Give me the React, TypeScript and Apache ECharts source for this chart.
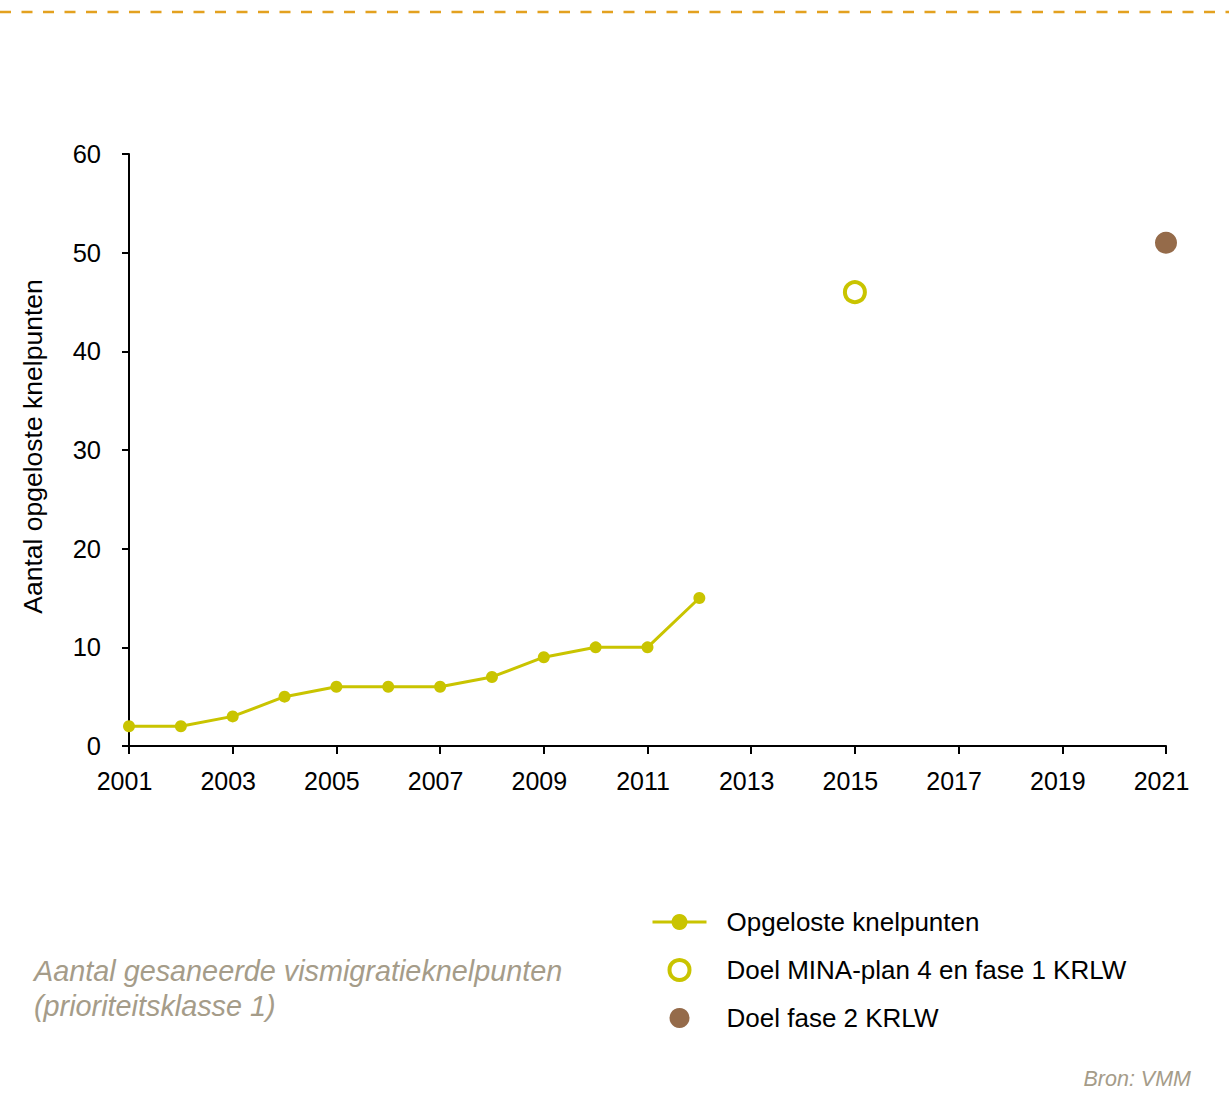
import React, { useEffect, useRef } from "react";
import * as echarts from "echarts";

const BASE_YEAR = 2001;
const years = [2001, 2002, 2003, 2004, 2005, 2006, 2007, 2008, 2009, 2010, 2011, 2012];
const solved = [2, 2, 3, 5, 6, 6, 6, 7, 9, 10, 10, 15];
const goal1Year = [2015];
const goal1Value = [46];
const goal2Year = [2021];
const goal2Value = [51];
const seriesNames = [
  "Opgeloste knelpunten",
  "Doel MINA-plan 4 en fase 1 KRLW",
  "Doel fase 2 KRLW",
];
const yAxisName = "Aantal opgeloste knelpunten";
const captionLines = ["Aantal gesaneerde vismigratieknelpunten", "(prioriteitsklasse 1)"];
const sourceText = "Bron: VMM";

const FONT = "'Liberation Sans', Arial, Helvetica, sans-serif";
const LIME = "#c9c400";
const BROWN = "#956b4a";
const GREY = "#a59c89";

export default function App() {
  const ref = useRef<HTMLDivElement>(null);
  useEffect(() => {
    if (!ref.current) return;
    const chart = echarts.init(ref.current, undefined, { renderer: "svg" });
    const option = {
      animation: false,
      backgroundColor: "#ffffff",
      textStyle: { fontFamily: FONT },
      grid: { left: 129, right: 63, top: 154, bottom: 363, containLabel: false },
      xAxis: {
        type: "value",
        min: 0,
        max: 20,
        interval: 2,
        axisLine: { show: true, lineStyle: { color: "#000", width: 2 } },
        axisTick: { show: true, length: 8, lineStyle: { color: "#000", width: 2 } },
        axisLabel: {
          formatter: (v: number) => String(v + BASE_YEAR),
          color: "#000",
          fontSize: 25,
          margin: 22,
          padding: [0, 9, 0, 0],
          fontFamily: FONT,
        },
        splitLine: { show: false },
      },
      yAxis: {
        type: "value",
        min: 0,
        max: 60,
        interval: 10,
        name: yAxisName,
        nameLocation: "middle",
        nameGap: 83,
        nameTextStyle: { color: "#000", fontSize: 26.5, fontFamily: FONT, padding: [0, 0, 0, 7] },
        axisLine: { show: true, lineStyle: { color: "#000", width: 2 } },
        axisTick: { show: true, length: 7, lineStyle: { color: "#000", width: 2 } },
        axisLabel: { color: "#000", fontSize: 25.5, margin: 28, fontFamily: FONT },
        splitLine: { show: false },
      },
      legend: {
        orient: "vertical",
        left: 646,
        top: 904,
        itemWidth: 54,
        itemHeight: 20,
        itemGap: 22,
        lineStyle: { width: 3 },
        textStyle: { color: "#000", fontSize: 26, fontFamily: FONT, padding: [0, 0, 0, 15] },
        data: [
          { name: seriesNames[0] },
          { name: seriesNames[1], itemStyle: { borderWidth: 4, opacity: 1 } },
          { name: seriesNames[2], itemStyle: { opacity: 1 } },
        ],
      },
      series: [
        {
          name: seriesNames[0],
          type: "line",
          data: years.map((y, i) => [y - BASE_YEAR, solved[i]]),
          symbol: "circle",
          symbolSize: 12,
          lineStyle: { color: LIME, width: 3 },
          itemStyle: { color: LIME, opacity: 1 },
        },
        {
          name: seriesNames[1],
          type: "scatter",
          data: goal1Year.map((y, i) => [y - BASE_YEAR, goal1Value[i]]),
          symbol: "circle",
          symbolSize: 20,
          itemStyle: { color: "#ffffff", borderColor: LIME, borderWidth: 4, opacity: 1 },
        },
        {
          name: seriesNames[2],
          type: "scatter",
          data: goal2Year.map((y, i) => [y - BASE_YEAR, goal2Value[i]]),
          symbol: "circle",
          symbolSize: 22,
          itemStyle: { color: BROWN, opacity: 1 },
        },
      ],
      graphic: [
        {
          type: "line",
          shape: { x1: 0, y1: 12, x2: 1229, y2: 12 },
          style: { stroke: "#e3a11f", lineWidth: 2.5, lineDash: [11, 10.5] },
        },
        {
          type: "text",
          left: 34,
          top: 953,
          style: {
            text: captionLines.join("\n"),
            fill: GREY,
            font: `italic 28.8px ${FONT}`,
            lineHeight: 35,
          },
        },
        {
          type: "text",
          right: 38,
          top: 1068,
          style: {
            text: sourceText,
            fill: GREY,
            font: `italic 21.5px ${FONT}`,
          },
        },
      ],
    };
    chart.setOption(option as any);
    return () => chart.dispose();
  }, []);
  return (
    <div
      ref={ref}
      style={{ position: "absolute", left: 0, top: 0, width: 1229, height: 1109 }}
    />
  );
}
